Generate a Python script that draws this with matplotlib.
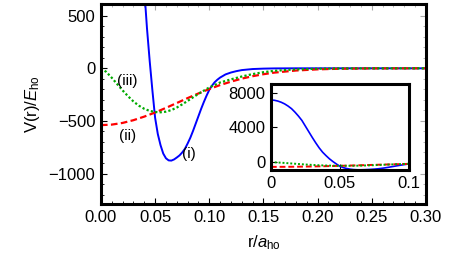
import matplotlib
matplotlib.use("Agg")
import matplotlib.pyplot as plt
from matplotlib.ticker import MultipleLocator, NullFormatter

plt.rcParams['font.family'] = ['Liberation Sans', 'DejaVu Sans']
plt.rcParams['mathtext.fontset'] = 'custom'
plt.rcParams['mathtext.rm'] = 'Liberation Sans'
plt.rcParams['mathtext.it'] = 'Liberation Sans:italic'

# curve (i)
r_i = [0.0, 0.0025, 0.005, 0.0075, 0.01, 0.0125, 0.015, 0.0175, 0.02, 0.0225,
       0.025, 0.0275, 0.03, 0.0325, 0.035, 0.0375, 0.04, 0.0425, 0.045, 0.0475,
       0.05, 0.0525, 0.055, 0.0575, 0.06, 0.0625, 0.065, 0.0675, 0.07, 0.0725,
       0.075, 0.0775, 0.08, 0.0825, 0.085, 0.0875, 0.09, 0.0925, 0.095, 0.0975,
       0.1, 0.1025, 0.105, 0.1075, 0.11, 0.115, 0.12, 0.125, 0.13, 0.14,
       0.15, 0.16, 0.18, 0.2, 0.3]
v_i = [7150, 7120, 7030, 6890, 6700, 6450, 6150, 5750, 5300, 4800,
       4150, 3500, 2850, 2230, 1650, 1150, 750, 380, 70, -210,
       -470, -625, -730, -810, -855, -875, -877, -866, -848, -828,
       -800, -765, -715, -660, -595, -525, -455, -385, -320, -260,
       -205, -165, -132, -108, -88, -58, -40, -27, -17, -7,
       -3, -1, 0, 0, 0]

# curve (ii)
r_ii = [0.00, 0.01, 0.02, 0.03, 0.04, 0.05, 0.06, 0.07, 0.08, 0.09, 0.10,
        0.11, 0.12, 0.13, 0.14, 0.15, 0.16, 0.18, 0.20, 0.22, 0.25, 0.30]
v_ii = [-540, -535, -519, -493, -459, -420, -376, -330, -283, -239, -197,
        -159, -127, -98, -75, -56, -41, -21, -10, -4, -1, 0]

# curve (iii)
r_iii = [0.000, 0.005, 0.010, 0.015, 0.020, 0.025, 0.030, 0.035, 0.040, 0.045,
         0.050, 0.055, 0.060, 0.065, 0.070, 0.075, 0.080, 0.085, 0.090, 0.095,
         0.100, 0.110, 0.120, 0.130, 0.140, 0.150, 0.160, 0.180, 0.200, 0.220, 0.250, 0.300]
v_iii = [0, -35, -90, -150, -210, -265, -315, -355, -385, -405,
         -415, -418, -412, -397, -373, -343, -310, -276, -243, -212,
         -182, -135, -105, -78, -55, -37, -24, -10, -4, -1.5, -0.3, 0]

labels = ['(i)', '(ii)', '(iii)']
label_pos = [(0.0812, -814), (0.0247, -640), (0.0247, -118)]


def style_frame(ax):
    for s in ax.spines.values():
        s.set_linewidth(2.2)
    ax.tick_params(which='both', direction='in', labelsize=12, pad=4)
    ax.tick_params(which='major', length=4, width=0.8)
    ax.tick_params(which='minor', length=2, width=0.6)


fig = plt.figure(figsize=(4.63, 2.57), dpi=100)
ax = fig.add_axes([0.218, 0.206, 0.702, 0.778])

ax.plot(r_i, v_i, color='#0000ff', lw=1.4)
ax.plot(r_ii, v_ii, color='#ff0000', lw=1.6, ls=(0, (3, 1.5)))
ax.plot(r_iii, v_iii, color='#00aa00', lw=1.6, ls=(0, (1, 1)))

for t, (x, y) in zip(labels, label_pos):
    ax.text(x, y, t, fontsize=11, ha='center', va='center')

ax.set_xlim(0, 0.3)
ax.set_ylim(-1290, 610)
ax.set_xticks([0, 0.05, 0.10, 0.15, 0.20, 0.25, 0.30])
ax.set_xticklabels(['0.00', '0.05', '0.10', '0.15', '0.20', '0.25', '0.30'])
ax.set_yticks([-1000, -500, 0, 500])
ax.xaxis.set_minor_locator(MultipleLocator(0.01))
ax.yaxis.set_minor_locator(MultipleLocator(100))
style_frame(ax)
ax.set_xlabel(r'r/$\mathit{a}_{\mathrm{ho}}$', fontsize=12, labelpad=6)
ax.set_ylabel(r'V(r)/$\mathit{E}_{\mathrm{ho}}$', fontsize=12, labelpad=5)

# faint ticks on the top and right of the frame
top = ax.secondary_xaxis('top')
top.set_xticks([0, 0.05, 0.10, 0.15, 0.20, 0.25, 0.30])
top.xaxis.set_minor_locator(MultipleLocator(0.01))
top.xaxis.set_major_formatter(NullFormatter())
top.tick_params(which='both', direction='in', color='#aaaaaa')
top.tick_params(which='major', length=4)
top.tick_params(which='minor', length=2)
top.spines['top'].set_visible(False)
right = ax.secondary_yaxis('right')
right.set_yticks([-1000, -500, 0, 500])
right.yaxis.set_minor_locator(MultipleLocator(100))
right.yaxis.set_major_formatter(NullFormatter())
right.tick_params(which='both', direction='in', color='#aaaaaa')
right.tick_params(which='major', length=4)
right.tick_params(which='minor', length=2)
right.spines['right'].set_visible(False)

# inset
axi = fig.add_axes([0.585, 0.3385, 0.298, 0.335])
axi.plot(r_i, v_i, color='#0000ff', lw=1.2)
axi.plot(r_ii, v_ii, color='#ff0000', lw=1.4, ls=(0, (3, 1.5)))
axi.plot(r_iii, v_iii, color='#00aa00', lw=1.4, ls=(0, (1, 1)))
axi.set_xlim(0, 0.1)
axi.set_ylim(-900, 9000)
axi.set_xticks([0, 0.05, 0.1])
axi.set_xticklabels(['0', '0.05', '0.1'])
axi.set_yticks([0, 4000, 8000])
axi.set_yticklabels(['0', '4000', '8000'])
style_frame(axi)

fig.savefig('out.png', dpi=100)
